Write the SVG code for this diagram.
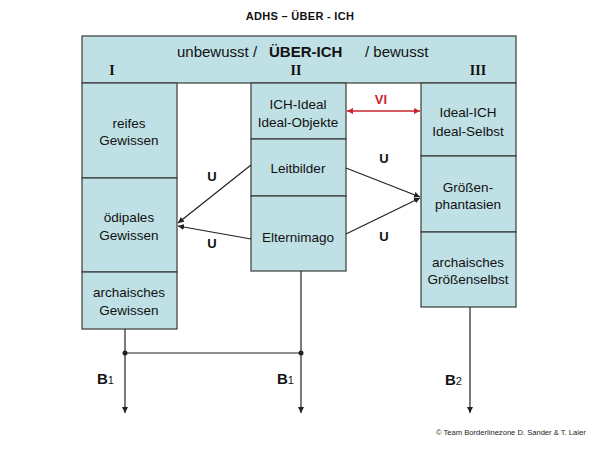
<svg xmlns="http://www.w3.org/2000/svg" width="600" height="450" viewBox="0 0 600 450">
<defs>
<style>
.box{fill:#bfe0e4;stroke:#3a3a3a;stroke-width:1.2}
.t{font-family:"Liberation Sans",Arial,sans-serif;font-size:13.5px;fill:#111;text-anchor:middle}
.h{font-family:"Liberation Sans",Arial,sans-serif;font-size:15px;fill:#111}
.rn{font-family:"Liberation Serif","Times New Roman",serif;font-size:14px;font-weight:bold;fill:#111;text-anchor:middle}
.u{font-family:"Liberation Sans",Arial,sans-serif;font-size:13px;font-weight:bold;fill:#111;text-anchor:middle}
.b{font-family:"Liberation Sans",Arial,sans-serif;font-size:15px;font-weight:bold;fill:#111}
.line{stroke:#222;stroke-width:1.2;fill:none}
</style>
<marker id="ah" viewBox="0 0 10 10" refX="10" refY="5" markerWidth="6" markerHeight="6" orient="auto" markerUnits="userSpaceOnUse">
<path d="M0,0 L10,5 L0,10 z" fill="#222"/>
</marker>
<marker id="ar" viewBox="0 0 10 10" refX="10" refY="5" markerWidth="6" markerHeight="6" orient="auto-start-reverse" markerUnits="userSpaceOnUse">
<path d="M0,0 L10,5 L0,10 z" fill="#c8262d"/>
</marker>
</defs>
<rect width="600" height="450" fill="#fff"/>
<text x="300" y="20" font-family="'Liberation Sans',Arial,sans-serif" font-size="11" font-weight="bold" text-anchor="middle" fill="#111" letter-spacing="0.3">ADHS – ÜBER - ICH</text>

<g id="header">
<rect class="box" x="82" y="36" width="434" height="47"/>
<text class="h" x="177" y="57">unbewusst /</text>
<text class="h" x="269" y="57" font-weight="bold">ÜBER-ICH</text>
<text class="h" x="365" y="57">/ bewusst</text>
<text class="rn" x="112" y="75">I</text>
<text class="rn" x="296" y="75">II</text>
<text class="rn" x="478" y="75">III</text>
</g>

<g id="reifes">
<rect class="box" x="82" y="83" width="95" height="95"/>
<text class="t" x="129" y="128">reifes</text>
<text class="t" x="129" y="145">Gewissen</text>
</g>
<g id="oedipales">
<rect class="box" x="82" y="178" width="95" height="94"/>
<text class="t" x="129" y="222">ödipales</text>
<text class="t" x="129" y="240">Gewissen</text>
</g>
<g id="archGewissen">
<rect class="box" x="82" y="272" width="95" height="57"/>
<text class="t" x="129" y="297">archaisches</text>
<text class="t" x="129" y="315">Gewissen</text>
</g>

<g id="ichideal">
<rect class="box" x="251" y="83" width="95" height="56"/>
<text class="t" x="298" y="109">ICH-Ideal</text>
<text class="t" x="298" y="127">Ideal-Objekte</text>
</g>
<g id="leitbilder">
<rect class="box" x="251" y="139" width="95" height="57"/>
<text class="t" x="298" y="173">Leitbilder</text>
</g>
<g id="elternimago">
<rect class="box" x="251" y="196" width="95" height="75"/>
<text class="t" x="298" y="242">Elternimago</text>
</g>

<g id="idealich">
<rect class="box" x="421" y="83" width="95" height="73"/>
<text class="t" x="468" y="117">Ideal-ICH</text>
<text class="t" x="468" y="136">Ideal-Selbst</text>
</g>
<g id="groessen">
<rect class="box" x="421" y="156" width="95" height="76"/>
<text class="t" x="468" y="192">Größen-</text>
<text class="t" x="468" y="209">phantasien</text>
</g>
<g id="archGroessen">
<rect class="box" x="421" y="232" width="95" height="75"/>
<text class="t" x="468" y="267">archaisches</text>
<text class="t" x="468" y="284">Größenselbst</text>
</g>

<g id="connectors">
<line x1="347" y1="111" x2="420" y2="111" stroke="#c8262d" stroke-width="1.3" marker-start="url(#ar)" marker-end="url(#ar)"/>
<text x="381" y="104" font-family="'Liberation Sans',Arial,sans-serif" font-size="13" font-weight="bold" fill="#c8262d" text-anchor="middle">VI</text>

<line class="line" x1="251" y1="165" x2="178" y2="223" marker-end="url(#ah)"/>
<line class="line" x1="251" y1="239" x2="178" y2="226" marker-end="url(#ah)"/>
<text class="u" x="212" y="181">U</text>
<text class="u" x="212" y="248">U</text>

<line class="line" x1="346" y1="168" x2="420" y2="197" marker-end="url(#ah)"/>
<line class="line" x1="346" y1="234" x2="420" y2="198" marker-end="url(#ah)"/>
<text class="u" x="384" y="163">U</text>
<text class="u" x="384" y="241">U</text>

<line class="line" x1="125" y1="329" x2="125" y2="413" marker-end="url(#ah)"/>
<line class="line" x1="301" y1="271" x2="301" y2="413" marker-end="url(#ah)"/>
<line class="line" x1="125" y1="353" x2="301" y2="353"/>
<circle cx="125" cy="353" r="2.5" fill="#222"/>
<circle cx="301" cy="353" r="2.5" fill="#222"/>
<line class="line" x1="470" y1="307" x2="470" y2="413" marker-end="url(#ah)"/>

<text class="b" x="97" y="384">B<tspan font-size="11" font-weight="normal">1</tspan></text>
<text class="b" x="277" y="384">B<tspan font-size="11" font-weight="normal">1</tspan></text>
<text class="b" x="445" y="385">B<tspan font-size="11" font-weight="normal">2</tspan></text>
</g>

<text x="436" y="435" font-family="'Liberation Sans',Arial,sans-serif" font-size="7.6" fill="#222">© Team Borderlinezone D. Sander &amp; T. Laier</text>
</svg>
